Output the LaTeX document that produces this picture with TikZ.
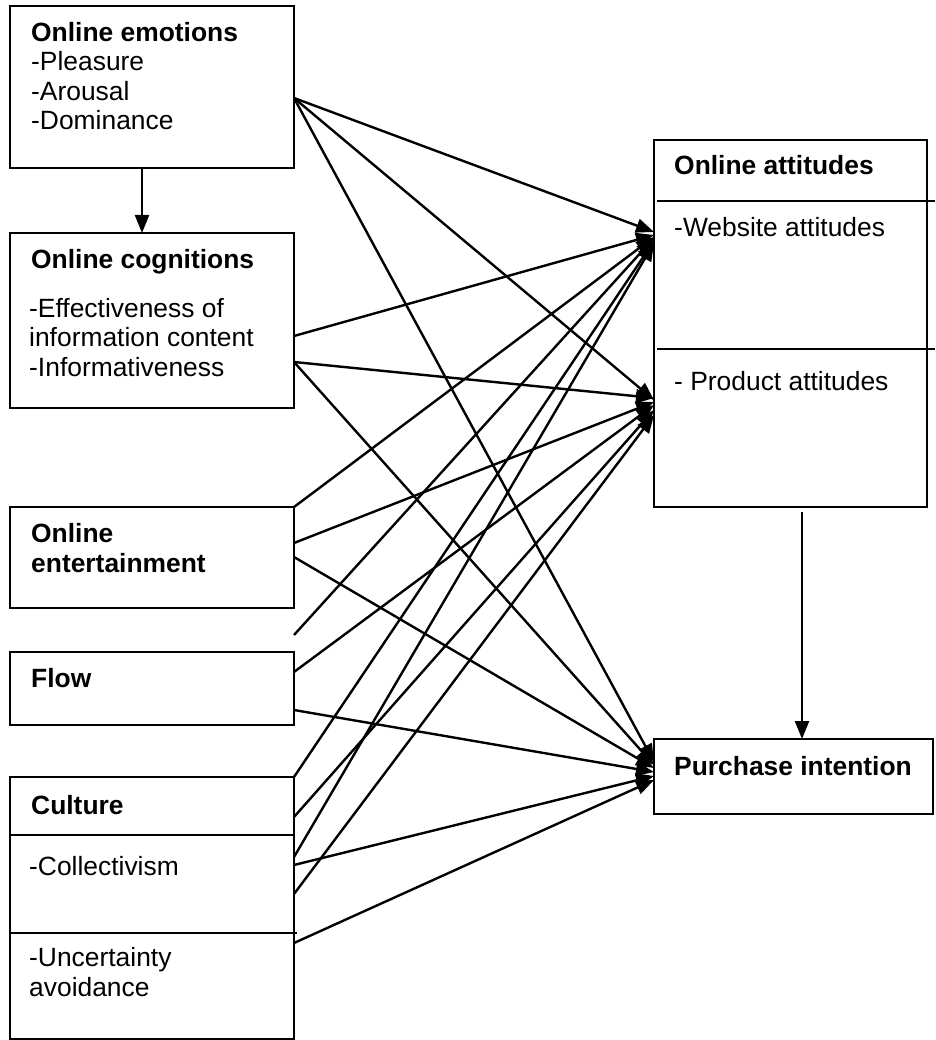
\documentclass[tikz,border=0pt]{standalone}
\usepackage{fontspec}
\setmainfont{Liberation Sans}
\usetikzlibrary{arrows.meta}
\tikzset{
  box/.style={draw,line width=2.2pt,anchor=north west,inner sep=0pt,outer sep=0pt},
  txt/.style={anchor=base west,inner sep=0pt,align=left,font=\fontsize{26.4}{29.5}\selectfont},
  link/.style={line width=2.4pt,->},
}

\begin{document}
\begin{tikzpicture}[x=1pt,y=-1pt,>={Triangle[length=18pt,width=14pt]}]
\useasboundingbox (0,0) rectangle (935,1040);
% left boxes
\node[box,minimum width=284pt,minimum height=162pt] (emo) at (10,6) {};
\node[box,minimum width=284pt,minimum height=175pt] (cog) at (10,233) {};
\node[box,minimum width=284pt,minimum height=101pt] (ent) at (10,507) {};
\node[box,minimum width=284pt,minimum height=73pt] (flow) at (10,652) {};
\node[box,minimum width=284pt,minimum height=262pt] (cul) at (10,777) {};
% right boxes
\node[box,minimum width=273pt,minimum height=367pt] (att) at (654,140) {};
\node[box,minimum width=279pt,minimum height=75pt] (pur) at (654,739) {};
\draw[line width=2.2pt] (cul.west |- 0,835) -- (cul.east |- 0,835);
\draw[line width=2.2pt] (cul.west |- 0,933) -- (297,933);
\draw[line width=2.2pt] (657,201) -- (935,201);
\draw[line width=2.2pt] (657,349) -- (935,349);
% texts (base = last line)
\node[txt] (emoT) at (31,130) {\textbf{Online emotions}\\-Pleasure\\-Arousal\\-Dominance};
\node[txt] (cogT) at (31,269) {\textbf{Online cognitions}};
\node[txt] (cogB) at (29,376) {-Effectiveness of\\information content\\-Informativeness};
\node[txt] (entT) at (31,572) {\textbf{Online}\\\textbf{entertainment}};
\node[txt] (flowT) at (31,687) {\textbf{Flow}};
\node[txt] (culT) at (31,814) {\textbf{Culture}};
\node[txt] (culA) at (29,875) {-Collectivism};
\node[txt] (culB) at (29,996) {-Uncertainty\\avoidance};
\node[txt] (attT) at (674,175) {\textbf{Online attitudes}};
\node[txt] (attA) at (674,237) {-Website attitudes};
\node[txt] (attB) at (674,390) {- Product attitudes};
\node[txt] (purT) at (674,775) {\textbf{Purchase intention}};
% free end
\coordinate (loose) at (294,635);
\coordinate (attout) at (802,512);
% arrows
\draw[link] (emo.south -| 142,0) -- (cog.north -| 142,0);
\draw[link] (attout) -- (pur.north -| 802,0);
\draw[link] (emo.east |- 0,98) -- (att.west |- 0,232);
\draw[link] (emo.east |- 0,98) -- (att.west |- 0,400);
\draw[link] (emo.east |- 0,98) -- (pur.west |- 0,762);
\draw[link] (cog.east |- 0,336) -- (att.west |- 0,235);
\draw[link] (cog.east |- 0,362) -- (att.west |- 0,398);
\draw[link] (cog.east |- 0,362) -- (pur.west |- 0,765);
\draw[link] (ent.east |- 0,507) -- (att.west |- 0,237);
\draw[link] (ent.east |- 0,543) -- (att.west |- 0,402);
\draw[link] (ent.east |- 0,557) -- (pur.west |- 0,768);
\draw[link] (loose) -- (att.west |- 0,238);
\draw[link] (flow.east |- 0,672) -- (att.west |- 0,405);
\draw[link] (flow.east |- 0,710) -- (pur.west |- 0,772);
\draw[link] (cul.east |- 0,777) -- (att.west |- 0,241);
\draw[link] (cul.east |- 0,817) -- (att.west |- 0,410);
\draw[link] (cul.east |- 0,857) -- (att.west |- 0,243);
\draw[link] (cul.east |- 0,865) -- (pur.west |- 0,776);
\draw[link] (cul.east |- 0,894) -- (att.west |- 0,415);
\draw[link] (cul.east |- 0,943) -- (pur.west |- 0,780);
\end{tikzpicture}
\end{document}
